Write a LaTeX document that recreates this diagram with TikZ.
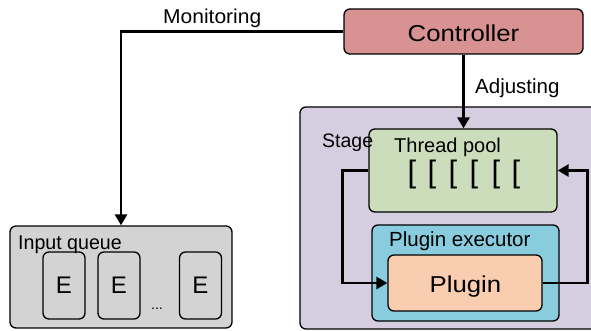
\documentclass[tikz,border=0pt]{standalone}
\usepackage{fontspec}
\setmainfont{Liberation Sans}
\usetikzlibrary{arrows.meta,calc}
\definecolor{ctrlc}{HTML}{D99292}
\definecolor{stagec}{HTML}{D5CDE0}
\definecolor{tpc}{HTML}{CCDDBB}
\definecolor{pec}{HTML}{88CCDD}
\definecolor{plc}{HTML}{F8CDB0}
\definecolor{iqc}{HTML}{D3D3D3}
\tikzset{
  box/.style={draw=black, line width=1.3pt, rounded corners=6pt, inner sep=0pt},
  lbl/.style={inner sep=0pt, anchor=base west},
  conn/.style={line width=2.8pt, -{Triangle[width=12pt,length=11pt]}},
  ebox/.style={box, minimum width=42pt, minimum height=67pt}
}
\begin{document}
\begin{tikzpicture}[x=1pt,y=-1pt]
\useasboundingbox (0,0) rectangle (591,330);
% containers
\node[box, fill=stagec, minimum width=297pt, minimum height=222pt] (stage) at (448.5,218) {};
\node[box, fill=iqc, minimum width=222pt, minimum height=102pt] (iq) at (121,277) {};
\node[box, fill=ctrlc, minimum width=239pt, minimum height=45pt] (ctrl) at (463.5,31.5) {};
\node[box, fill=tpc, minimum width=188pt, minimum height=83pt] (tp) at (463,170.5) {};
\node[box, fill=pec, minimum width=187pt, minimum height=96pt] (pe) at (465.5,273) {};
\node[box, fill=plc, minimum width=154pt, minimum height=56pt] (pl) at (465,283) {};
\node[ebox] (e1) at (64,285.5) {};
\node[ebox] (e2) at (119,285.5) {};
\node[ebox] (e3) at (200.5,285.5) {};
% texts
\node[inner sep=0pt, anchor=base] (ctrlt) at (463.5,41) {\fontsize{23}{26}\selectfont \scalebox{1.12}[1]{Controller}};
\node[lbl] (mon) at (163,23) {\fontsize{20}{24}\selectfont \scalebox{1.05}[1]{Monitoring}};
\node[lbl] (adj) at (475,93) {\fontsize{20.5}{24}\selectfont Adjusting};
\node[lbl] (stg) at (322,147) {\fontsize{19.5}{23}\selectfont Stage};
\node[lbl] (tpt) at (394,152) {\fontsize{20}{23}\selectfont Thread pool};
\node[lbl] (pet) at (389,246) {\fontsize{20.5}{24}\selectfont Plugin executor};
\node[inner sep=0pt, anchor=base] (plt) at (465.5,292) {\fontsize{23}{26}\selectfont \scalebox{1.12}[1]{Plugin}};
\node[lbl] (iqt) at (18,249) {\fontsize{20}{24}\selectfont \scalebox{0.98}[1]{Input queue}};
\node[inner sep=0pt, anchor=base] (e1t) at (64,293) {\fontsize{24}{28}\selectfont E};
\node[inner sep=0pt, anchor=base] (e2t) at (119,293) {\fontsize{24}{28}\selectfont E};
\node[inner sep=0pt, anchor=base] (e3t) at (200.5,293) {\fontsize{24}{28}\selectfont E};
\node[inner sep=0pt, anchor=base] (dots) at (157,309) {\fontsize{14}{16}\selectfont ...};
% thread brackets
\foreach \i/\xx in {1/412,2/432,3/453,4/474,5/496,6/516}{
  \node[inner sep=0pt, anchor=base] (br\i) at (\xx,182) {\fontsize{31}{34}\selectfont [};
}
% connectors
\coordinate (monc) at (iq.north |- ctrl.west);
\draw[conn] (ctrl.west) -- (monc) -- (iq.north);
\draw[conn] (ctrl.south) -- (ctrl.south |- tp.north);
\coordinate (lc) at ($(tp.west)+(-26,0)$);
\draw[conn] (tp.west) -- (lc) |- (pl.west);
\coordinate (rc) at ($(pl.east)+(45,0)$);
\draw[conn] (pl.east) -- (rc) |- (tp.east);
\end{tikzpicture}
\end{document}
